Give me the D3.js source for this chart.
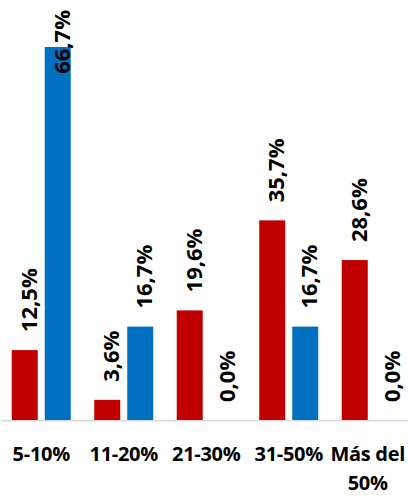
<!DOCTYPE html>
<html>
<head>
<meta charset="utf-8">
<script src="https://cdn.jsdelivr.net/npm/d3@7/dist/d3.min.js"></script>
<style>
  html, body { margin: 0; padding: 0; background: #fff; }
  svg { display: block; }
  text { font-family: "Open Sans", "DejaVu Sans", sans-serif; font-weight: 700; fill: #000; }
</style>
</head>
<body>
<div id="chart"></div>
<script>
// Share of respondents per range, two groups
const categories = ["5-10%", "11-20%", "21-30%", "31-50%", "Más del 50%"];
const seriesNames = ["Grupo A", "Grupo B"];
const seriesA = [12.5, 3.6, 19.6, 35.7, 28.6];
const seriesB = [66.7, 16.7, 0.0, 16.7, 0.0];
const seriesColors = ["#C00000", "#0070C0"];

const width = 408, height = 497;
const baseline = 420;

const svg = d3.select("#chart").append("svg")
  .attr("width", width).attr("height", height);

const x = d3.scaleBand().domain(categories).range([0, 412.5]).paddingInner(0).paddingOuter(0);
const y = d3.scaleLinear().domain([0, 66.7]).range([baseline, 47]);

const barW = 26, gap = 7;
const rows = [];
categories.forEach((c, i) => {
  [seriesA, seriesB].forEach((s, k) => {
    const cx = x(c) + x.bandwidth() / 2;
    rows.push({ cat: c, k, value: s[i], x0: k === 0 ? cx - gap / 2 - barW : cx + gap / 2 });
  });
});

// Bars
svg.append("g").selectAll("rect").data(rows).join("rect")
  .attr("x", d => d.x0)
  .attr("y", d => y(d.value))
  .attr("width", barW)
  .attr("height", d => baseline - y(d.value))
  .attr("fill", d => seriesColors[d.k]);

// Baseline axis
svg.append("line")
  .attr("x1", 1).attr("x2", width)
  .attr("y1", baseline + 0.75).attr("y2", baseline + 0.75)
  .attr("stroke", "#d9d9d9").attr("stroke-width", 1.5);

// Rotated value labels above each bar
const fmt = v => v.toFixed(1).replace(".", ",") + "%";
const labels = svg.append("g").selectAll("text").data(rows).join("text")
  .attr("font-size", 22)
  .attr("dominant-baseline", "central")
  .text(d => fmt(d.value));
labels.each(function(d) {
  const len = this.getComputedTextLength();
  const start = Math.max(y(d.value) - 18, 10 + len);
  const cx = d.x0 + barW / 2 + 3;
  d3.select(this).attr("transform", `translate(${cx},${start}) rotate(-90)`);
});

// Category labels (wrapped), kept inside the right edge
const catG = svg.append("g");
categories.forEach(c => {
  let cx = x(c) + x.bandwidth() / 2;
  const t = catG.append("text")
    .attr("y", 461)
    .attr("text-anchor", "middle")
    .attr("font-size", 20)
    .attr("letter-spacing", -0.3);
  const parts = c === "Más del 50%" ? ["Más del", "50%"] : [c];
  parts.forEach((p, j) => {
    t.append("tspan").attr("x", cx).attr("dy", j === 0 ? 0 : 29).text(p);
  });
  const bb = t.node().getBBox();
  if (bb.x + bb.width > width - 3) {
    cx -= bb.x + bb.width - (width - 3);
    t.selectAll("tspan").attr("x", cx);
  }
});
</script>
</body>
</html>
